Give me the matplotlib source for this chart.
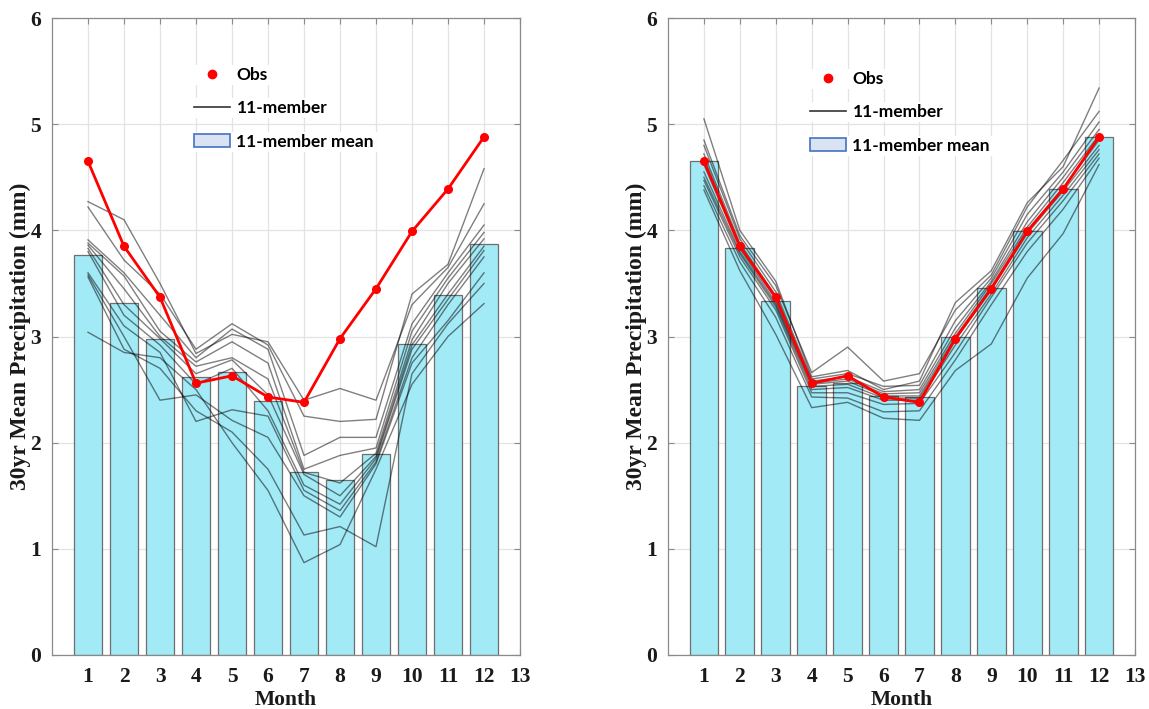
import numpy as np
import matplotlib
matplotlib.use("Agg")
import matplotlib.pyplot as plt
from matplotlib.lines import Line2D
from matplotlib.patches import Patch, Rectangle
from matplotlib.font_manager import FontProperties

# ---- data -------------------------------------------------------------
months = np.arange(1, 13)

obs = [4.65, 3.85, 3.37, 2.56, 2.63, 2.43, 2.38, 2.98, 3.45, 3.99, 4.39, 4.88]

# raw ensemble (left panel)
raw_mean = [3.77, 3.32, 2.98, 2.62, 2.67, 2.39, 1.72, 1.65, 1.89, 2.93, 3.39, 3.87]
raw_members = [
    [4.27, 4.10, 3.50, 2.84, 3.02, 2.95, 2.40, 2.51, 2.40, 3.30, 3.65, 4.25],
    [4.22, 3.72, 3.40, 2.88, 3.12, 2.92, 2.25, 2.20, 2.22, 3.40, 3.68, 4.58],
    [3.91, 3.60, 3.20, 2.80, 3.07, 2.88, 1.88, 2.05, 2.05, 3.12, 3.60, 4.05],
    [3.88, 3.57, 3.05, 2.76, 2.95, 2.75, 1.75, 1.88, 1.95, 3.05, 3.55, 3.98],
    [3.86, 3.45, 3.00, 2.72, 2.80, 2.60, 1.72, 1.62, 1.90, 2.97, 3.50, 3.92],
    [3.83, 3.30, 2.98, 2.65, 2.78, 2.45, 1.70, 1.50, 1.87, 2.92, 3.40, 3.85],
    [3.80, 3.20, 2.92, 2.55, 2.70, 2.30, 1.60, 1.42, 1.85, 2.88, 3.35, 3.81],
    [3.60, 3.10, 2.85, 2.20, 2.31, 2.25, 1.55, 1.36, 1.82, 2.80, 3.30, 3.75],
    [3.58, 3.00, 2.40, 2.45, 2.21, 2.05, 1.50, 1.30, 1.80, 2.75, 3.15, 3.60],
    [3.56, 2.88, 2.70, 2.30, 2.10, 1.75, 1.13, 1.21, 1.02, 2.65, 3.12, 3.50],
    [3.04, 2.85, 2.80, 2.50, 2.00, 1.55, 0.87, 1.04, 1.75, 2.55, 3.00, 3.31],
]

# bias-corrected ensemble (right panel)
cor_mean = [4.65, 3.83, 3.33, 2.53, 2.56, 2.44, 2.43, 3.00, 3.46, 3.99, 4.39, 4.88]
cor_members = [
    [5.05, 4.00, 3.52, 2.62, 2.68, 2.50, 2.58, 3.32, 3.62, 4.26, 4.60, 5.34],
    [4.85, 3.95, 3.48, 2.66, 2.90, 2.58, 2.65, 3.25, 3.58, 4.22, 4.66, 5.12],
    [4.80, 3.92, 3.42, 2.60, 2.65, 2.53, 2.54, 3.15, 3.55, 4.15, 4.55, 5.02],
    [4.72, 3.88, 3.38, 2.58, 2.62, 2.48, 2.50, 3.08, 3.52, 4.08, 4.50, 4.95],
    [4.68, 3.85, 3.35, 2.56, 2.60, 2.46, 2.47, 3.03, 3.50, 4.03, 4.45, 4.90],
    [4.62, 3.83, 3.32, 2.55, 2.58, 2.44, 2.44, 3.00, 3.47, 4.00, 4.40, 4.85],
    [4.55, 3.80, 3.30, 2.53, 2.55, 2.42, 2.42, 2.97, 3.44, 3.97, 4.37, 4.80],
    [4.50, 3.78, 3.28, 2.50, 2.52, 2.40, 2.40, 2.92, 3.40, 3.93, 4.33, 4.76],
    [4.47, 3.75, 3.25, 2.47, 2.47, 2.36, 2.37, 2.85, 3.37, 3.88, 4.28, 4.72],
    [4.42, 3.70, 3.18, 2.43, 2.42, 2.29, 2.30, 2.78, 3.30, 3.80, 4.20, 4.68],
    [4.38, 3.62, 3.02, 2.33, 2.38, 2.23, 2.21, 2.68, 2.93, 3.55, 3.97, 4.62],
]

xticks = list(range(1, 14))
yticks = list(range(0, 7))
xlabel_text = "Month"
ylabel_text = "30yr Mean Precipitation (mm)"
legend_labels = ["Obs", "11-member", "11-member mean"]

# ---- style ------------------------------------------------------------
BAR_FACE = "#a2eaf6"
BAR_EDGE = "#6f6f6f"
GRID = "#e3e3e3"
SPINE = "#8a8a8a"
TEXT = "#1a1a1a"
TICK_FONT = FontProperties(family="Liberation Serif", weight="bold", size=15.5)
XLAB_FONT = dict(family="Liberation Serif", weight="bold", size=15.5)
YLAB_FONT = dict(family="Liberation Serif", weight="bold", size=17)
LEG_FONT = FontProperties(family="Lato", weight="bold", size=12.5)

W, H = 1149, 709
fig = plt.figure(figsize=(W / 100, H / 100), dpi=100)

def px_axes(left, right, top, bottom):
    return fig.add_axes([left / W, 1 - bottom / H, (right - left) / W, (bottom - top) / H])

ax_l = px_axes(52, 520, 18, 655)
ax_r = px_axes(668, 1135, 18, 655)


def draw_panel(ax, mean, members, leg_anchor):
    ax.set_axisbelow(True)
    ax.bar(months, mean, width=0.8, color=BAR_FACE, edgecolor=BAR_EDGE,
           linewidth=0.9, zorder=2)
    for m in members:
        ax.plot(months, m, color="black", alpha=0.5, linewidth=1.0, zorder=3)
    ax.plot(months, obs, color="red", linewidth=2.0, marker="o",
            markersize=5.5, zorder=4)

    ax.set_xlim(0, 13)
    ax.set_ylim(0, 6)
    ax.set_xticks(xticks)
    ax.set_yticks(yticks)
    ax.grid(True, color=GRID, linewidth=0.9)
    for s in ax.spines.values():
        s.set_color(SPINE)
        s.set_linewidth(0.9)
    ax.tick_params(direction="in", length=4, width=0.8, color=SPINE,
                   top=True, right=True)
    ax.tick_params(axis="x", pad=9)
    ax.tick_params(axis="y", pad=8)
    for lab in ax.get_xticklabels() + ax.get_yticklabels():
        lab.set_fontproperties(TICK_FONT)
        lab.set_color(TEXT)
    ax.set_xlabel(xlabel_text, fontdict=XLAB_FONT, labelpad=2, color=TEXT)
    ax.set_ylabel(ylabel_text, fontdict=YLAB_FONT, labelpad=-1, color=TEXT)

    handles = [
        Line2D([], [], color="red", marker="o", linestyle="none", markersize=6),
        Line2D([], [], color="#333333", linewidth=1.2),
        Patch(facecolor="#dae3f3", edgecolor="#4472c4", linewidth=1.2),
    ]
    leg = ax.legend(handles, legend_labels, loc="upper left",
                    bbox_to_anchor=leg_anchor, frameon=False, prop=LEG_FONT,
                    handlelength=2.1, handleheight=0.75, handletextpad=0.35,
                    labelspacing=1.0, borderaxespad=0)
    return leg


leg_l = draw_panel(ax_l, raw_mean, raw_members, ((187 - 52) / 468, (655 - 60) / 637))
leg_r = draw_panel(ax_r, cor_mean, cor_members, ((803 - 668) / 467, (655 - 64) / 637))

# white strip behind each legend row so the grid does not run through it
fig.canvas.draw()
renderer = fig.canvas.get_renderer()
for ax, leg in ((ax_l, leg_l), (ax_r, leg_r)):
    for txt in leg.get_texts():
        tb = txt.get_window_extent(renderer)
        x0 = leg.get_window_extent(renderer).x0 - 2
        rect = Rectangle((x0, tb.y0 - 2), tb.x1 - x0 + 3, tb.height + 4,
                         transform=None, facecolor="white", edgecolor="none",
                         zorder=1.5)
        ax.add_artist(rect)

fig.savefig("out.png", dpi=100)
